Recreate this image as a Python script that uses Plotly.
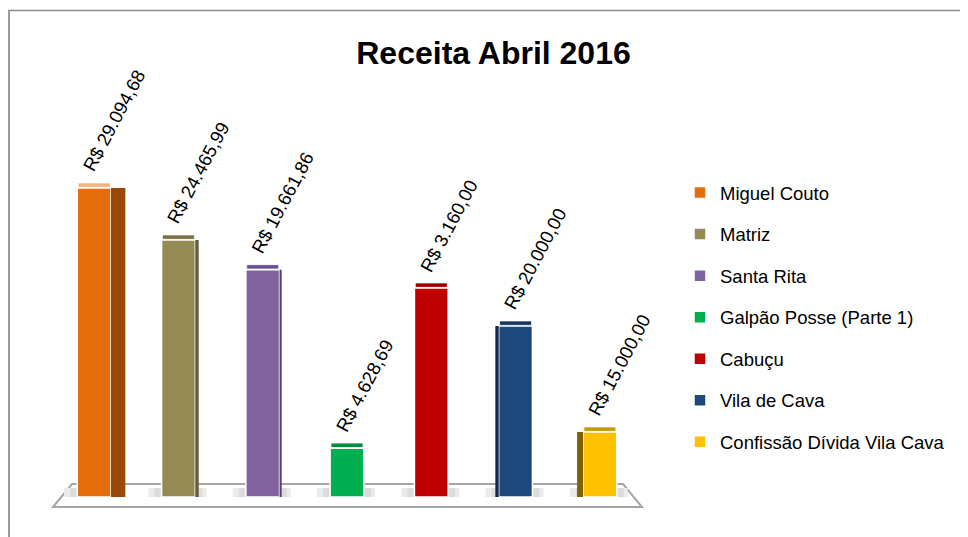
import plotly.graph_objects as go

# ---- data ----
categories = ["Miguel Couto", "Matriz", "Santa Rita", "Galpão Posse (Parte 1)",
              "Cabuçu", "Vila de Cava", "Confissão Dívida Vila Cava"]
values = [29094.68, 24200, 21400, 4600, 19680, 16100, 6120]   # bar heights
labels = ["R$ 29.094,68", "R$ 24.465,99", "R$ 19.661,86", "R$ 4.628,69",
          "R$ 3.160,00", "R$ 20.000,00", "R$ 15.000,00"]
colors = ["#E46C0A", "#948A54", "#8064A2", "#00B050", "#C00000", "#1F497D", "#FFC000"]
side_colors = ["#9A4806", "#625B37", "#54426B", "#007A3A", "#800000", "#11284A", "#7F6000"]
cap_colors = ["#F3B27A", "#7A7145", "#6A5290", "#008A40", "#9A0000", "#17375E", "#C89600"]
# visible side face: (width in category units, +1 right / -1 left)
side_w = [0.17, 0.04, 0.025, 0.0, 0.0, 0.04, 0.07]
side_dir = [1, 1, 1, 1, 1, -1, -1]

OFF = 8                      # page body margin offset
W, H = 968 - OFF, 537 - OFF
ML = 52 - OFF
MR = W - (642 - OFF)
MT = 60 - OFF
MB = H - (510 - OFF)
PW, PH = W - ML - MR, H - MT - MB
SCALE = 94.16                # value units per pixel
BASE_PX = 497                # reference pixel row of value 0
YMIN = -(510 - BASE_PX) * SCALE
YMAX = (BASE_PX - 60) * SCALE
BARW = 0.40
CAP = 420


def px(xp):
    return (xp - OFF - ML) / PW


def py(yp):
    return (H - MB - (yp - OFF)) / PH


fig = go.Figure()
x = list(range(len(categories)))

for i, (c, v, col) in enumerate(zip(categories, values, colors)):
    fig.add_trace(go.Bar(
        x=[i], y=[v], name=c, width=BARW,
        marker=dict(color=col, line=dict(color="white", width=1.5)),
        legendgroup=c, hoverinfo="skip"))

# 3D side faces
for i, v in enumerate(values):
    if side_w[i] > 0:
        off = BARW / 2 if side_dir[i] > 0 else -BARW / 2 - side_w[i]
        fig.add_trace(go.Bar(
            x=[i], y=[v], width=side_w[i], offset=off, showlegend=False,
            marker=dict(color=side_colors[i], line=dict(width=0)), hoverinfo="skip"))

# top caps
for i, v in enumerate(values):
    fig.add_trace(go.Bar(
        x=[i], y=[CAP], base=[v + 60], width=BARW * 0.95, showlegend=False,
        marker=dict(color=cap_colors[i], line=dict(color="white", width=0.8)),
        hoverinfo="skip"))

# value labels
for i, (v, t) in enumerate(zip(values, labels)):
    fig.add_annotation(
        x=i, y=v + CAP, text=t, showarrow=False, textangle=-62,
        xanchor="left", yanchor="bottom", xshift=-18, yshift=6,
        font=dict(family="Liberation Sans, Arial, sans-serif", size=18.5, color="#000000"))

shapes = []
# floor
shapes.append(dict(
    type="path", xref="paper", yref="paper", layer="below",
    path=f"M {px(53)},{py(507)} L {px(72)},{py(484)} L {px(623)},{py(484)} L {px(642)},{py(507)} Z",
    fillcolor="white", line=dict(color="#A6A6A6", width=2)))
# floor shadows (soft)
for i in x:
    xc = OFF + ML + (i + 0.5) / len(categories) * PW
    for dx0, dx1, colr in [(-30, 28, "#EBEBEB"), (-24, 24, "#DCDCDC")]:
        shapes.append(dict(type="rect", xref="paper", yref="paper", layer="below",
                           x0=px(xc + dx0), x1=px(xc + dx1), y0=py(497), y1=py(488),
                           fillcolor=colr, line=dict(width=0)))
# outer border (top and left)
shapes.append(dict(type="line", xref="paper", yref="paper", x0=px(8), x1=px(968),
                   y0=py(10.5), y1=py(10.5), line=dict(color="#8C8C8C", width=1.5)))
shapes.append(dict(type="line", xref="paper", yref="paper", x0=px(9), x1=px(9),
                   y0=py(10), y1=py(537), line=dict(color="#9A9A9A", width=2)))

fig.update_layout(
    width=W, height=H,
    margin=dict(l=ML, r=MR, t=MT, b=MB),
    paper_bgcolor="white", plot_bgcolor="white",
    barmode="overlay",
    showlegend=True,
    title=dict(text="<b>Receita Abril 2016</b>", x=(493.5 - OFF) / W, xanchor="center",
               y=(H - (53 - OFF)) / H, yanchor="middle", xref="container", yref="container",
               font=dict(family="Liberation Sans, Arial, sans-serif", size=32, color="#000000")),
    xaxis=dict(range=[-0.5, 6.5], visible=False, fixedrange=True),
    yaxis=dict(range=[YMIN, YMAX], visible=False, fixedrange=True),
    legend=dict(xref="container", yref="container", x=(680 - OFF) / W, xanchor="left",
                y=(H - (174 - OFF)) / H, yanchor="top", traceorder="grouped", tracegroupgap=14.5,
                maxheight=500, itemwidth=30,
                font=dict(family="Liberation Sans, Arial, sans-serif", size=18.5, color="#000000"),
                bgcolor="rgba(0,0,0,0)"),
    shapes=shapes,
)

fig.write_html("out.html")
